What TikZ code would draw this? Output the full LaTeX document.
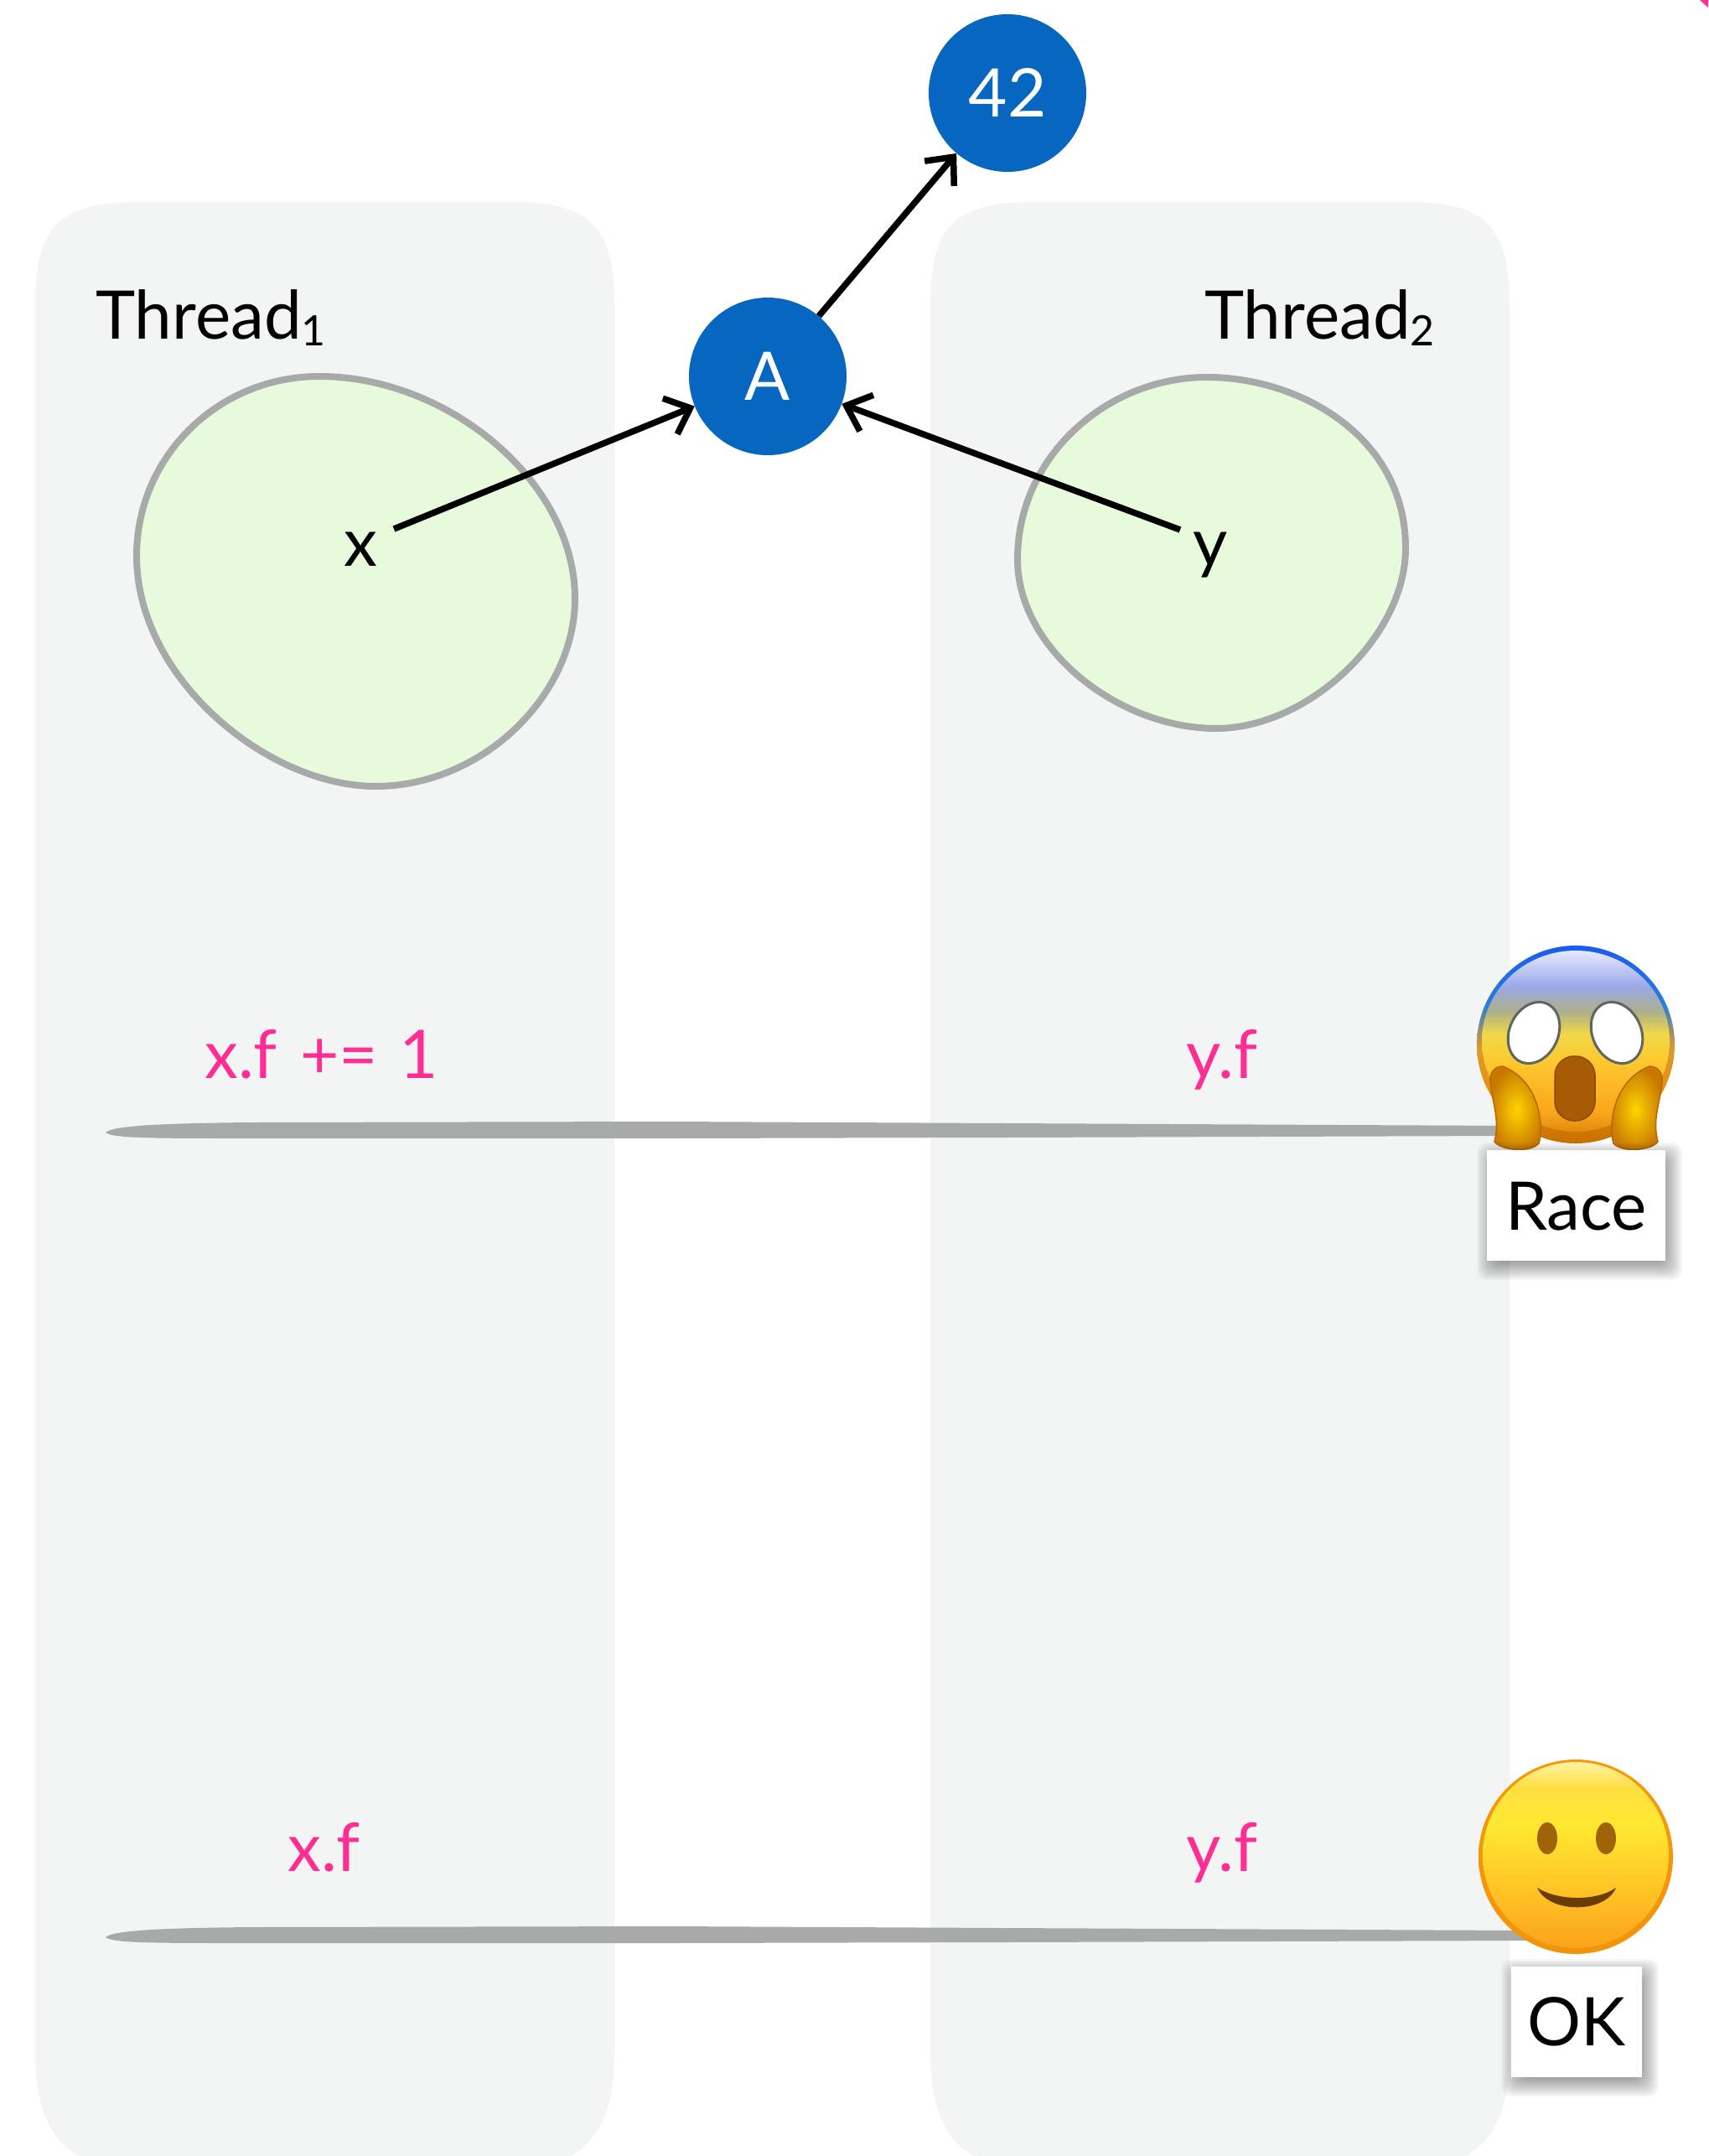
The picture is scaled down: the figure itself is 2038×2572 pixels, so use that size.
\documentclass[tikz,border=0pt]{standalone}
\usepackage{fontspec}
\setmainfont{Lato}
\usetikzlibrary{arrows.meta}
\definecolor{panelc}{HTML}{F3F5F4}
\definecolor{blobf}{HTML}{E7FBDC}
\definecolor{greyc}{HTML}{A7AAA9}
\definecolor{bluec}{HTML}{0666C0}
\definecolor{pinkc}{HTML}{FF2E93}
\definecolor{handin}{HTML}{FFD400}
\definecolor{handout}{HTML}{C87800}
\definecolor{handln}{HTML}{B86A00}
\definecolor{mouthc}{HTML}{A85A05}
\definecolor{mouthln}{HTML}{8E4A00}
\definecolor{eyeln}{HTML}{5F6660}
\definecolor{smeye}{HTML}{A06408}
\definecolor{smmouth}{HTML}{6B3C00}
\definecolor{so1}{HTML}{1A5CF0}\definecolor{so2}{HTML}{2B80D8}\definecolor{so3}{HTML}{D89A30}\definecolor{so4}{HTML}{E88F10}\definecolor{so5}{HTML}{C87000}
\definecolor{si1}{HTML}{E6EAFF}\definecolor{si2}{HTML}{9AA8E6}\definecolor{si3}{HTML}{AEB088}\definecolor{si4}{HTML}{F0D848}\definecolor{si5}{HTML}{FFC62E}\definecolor{si6}{HTML}{F9A51A}\definecolor{si7}{HTML}{E08A10}
\definecolor{ho1}{HTML}{F59A0C}\definecolor{ho2}{HTML}{F29408}
\definecolor{hi1}{HTML}{FFF2A0}\definecolor{hi2}{HTML}{FFDF40}\definecolor{hi3}{HTML}{FFE830}\definecolor{hi4}{HTML}{FFBC22}\definecolor{hi5}{HTML}{FAA31A}
\pgfdeclareverticalshading{scareouter}{100bp}{color(0bp)=(so5);color(25bp)=(so5);color(38.7bp)=(so4);color(49.3bp)=(so3);color(59.8bp)=(so2);color(75bp)=(so1);color(100bp)=(so1)}
\pgfdeclareverticalshading{scareinner}{100bp}{color(0bp)=(si7);color(25bp)=(si7);color(30bp)=(si6);color(43.7bp)=(si5);color(52bp)=(si4);color(58bp)=(si3);color(65bp)=(si2);color(75bp)=(si1);color(100bp)=(si1)}
\pgfdeclareverticalshading{smileouter}{100bp}{color(0bp)=(ho2);color(25bp)=(ho2);color(75bp)=(ho1);color(100bp)=(ho1)}
\pgfdeclareverticalshading{smileinner}{100bp}{color(0bp)=(hi5);color(25bp)=(hi5);color(37bp)=(hi4);color(58bp)=(hi3);color(68bp)=(hi2);color(75bp)=(hi1);color(100bp)=(hi1)}
\newcommand{\softshadow}[4]{%
  \foreach \d in {16,14,...,-8}{%
    \fill[black,opacity=.035,rounded corners=12pt] (#1-\d+4,#2-\d+7) rectangle (#3+\d+4,#4+\d+7);}}
\tikzset{
  big/.style={font=\fontsize{80}{96}\selectfont},
  lab/.style={big,inner sep=0pt,anchor=base west},
  pinklab/.style={lab,text=pinkc},
  obj/.style={circle,fill=bluec,text=white,minimum size=188pt,inner sep=0pt,big},
  blob/.style={fill=blobf,draw=greyc,line width=8pt},
  conn/.style={line width=7.5pt,draw=black,-{Straight Barb[length=26pt,width=46pt,line width=7.5pt]}},
  panel/.style={fill=panelc},
  bar/.style={fill=greyc},
  tag/.style={fill=white,inner sep=0pt,big},
  hand/.style={inner color=handin,outer color=handout,draw=handln,line width=1.5pt}
}
\begin{document}
\begin{tikzpicture}[x=1pt,y=-1pt]
\useasboundingbox (0,0) rectangle (2038,2572);
\fill[white] (0,0) rectangle (2038,2572);
\begin{scope}
\clip (0,0) rectangle (2038,2572);
\path[panel] (42,365) .. controls (42,270) and (70,241) .. (165,241) -- (610,241) .. controls (705,241) and (733,270) .. (733,365) -- (733,2447) .. controls (733,2530) and (707,2585) .. (620,2585) -- (155,2585) .. controls (68,2585) and (42,2530) .. (42,2447) -- cycle;
\path[panel] (1110,365) .. controls (1110,270) and (1138,241) .. (1233,241) -- (1678,241) .. controls (1773,241) and (1801,270) .. (1801,365) -- (1801,2447) .. controls (1801,2530) and (1775,2585) .. (1688,2585) -- (1223,2585) .. controls (1136,2585) and (1110,2530) .. (1110,2447) -- cycle;
\end{scope}
% corner mark
\fill[pinkc] (2028,0) -- (2038,0) -- (2038,9) -- cycle;
% memory blobs
\path[blob] (381,449) .. controls (535,449) and (686,575) .. (686,714) .. controls (686,830) and (575,938) .. (448,938) .. controls (320,938) and (163,810) .. (163,663) .. controls (163,545) and (260,449) .. (381,449) -- cycle;
\path[blob] (1440,450) .. controls (1550,450) and (1677,520) .. (1677,654) .. controls (1677,760) and (1560,869) .. (1451,869) .. controls (1335,869) and (1214,775) .. (1214,667) .. controls (1214,545) and (1320,450) .. (1440,450) -- cycle;
% timeline bars
\path[bar] (126,1351) .. controls (135,1343) and (190,1340) .. (300,1339) -- (800,1338) -- (1200,1340) -- (1800,1343) -- (1800,1355) -- (1200,1357) -- (800,1358) -- (300,1358) .. controls (180,1358) and (135,1358) .. (126,1351) -- cycle;
\path[bar] (126,2311) .. controls (135,2303) and (190,2300) .. (300,2299) -- (800,2298) -- (1200,2300) -- (1820,2303) -- (1820,2315) -- (1200,2317) -- (800,2318) -- (300,2318) .. controls (180,2318) and (135,2318) .. (126,2311) -- cycle;
% objects
\node[obj] (A) at (916,449) {A};
\node[obj] (N42) at (1202,111) {42};
\coordinate (xs) at (470,631);
\coordinate (ys) at (1408,632);
\draw[conn] (xs) -- (A);
\draw[conn] (ys) -- (A);
\draw[conn] (A) -- (N42);
% labels
\node[lab] (t1) at (114,404) {Thread\raisebox{-8pt}{\fontsize{50}{50}\selectfont 1}};
\node[lab] (t2) at (1437,404) {Thread\raisebox{-8pt}{\fontsize{50}{50}\selectfont 2}};
\node[big,inner sep=0pt,anchor=base] (x) at (430,675) {x};
\node[big,inner sep=0pt,anchor=base] (y) at (1444,675) {y};
\node[pinklab] (p1) at (244,1286) {x.f \hspace{7pt}+= \hspace{5pt}1};
\node[pinklab] (p2) at (1415,1286) {y.f};
\node[pinklab] (p3) at (343,2232) {x.f};
\node[pinklab] (p4) at (1415,2232) {y.f};
% scared emoji
\shade[shading=scareouter] (1880,1246) circle [radius=118pt];
\shade[shading=scareinner] (1880,1242) ellipse [x radius=112pt,y radius=108pt];
\draw[fill=white,draw=eyeln,line width=3pt] (1830,1232) ellipse [x radius=29pt,y radius=38pt,rotate=-25];
\draw[fill=white,draw=eyeln,line width=3pt] (1929,1232) ellipse [x radius=29pt,y radius=38pt,rotate=25];
\fill[mouthc,draw=mouthln,line width=1.5pt,rounded corners=23pt] (1855,1260) rectangle (1903,1337);
\shade[hand] (1793,1272) .. controls (1783,1272) and (1777,1280) .. (1778,1290) .. controls (1780,1315) and (1790,1335) .. (1783,1362) .. controls (1790,1372) and (1825,1376) .. (1836,1364) .. controls (1842,1345) and (1838,1290) .. (1793,1272) -- cycle;
\shade[hand] (1968,1272) .. controls (1978,1272) and (1984,1280) .. (1983,1290) .. controls (1981,1315) and (1971,1335) .. (1978,1362) .. controls (1971,1372) and (1936,1376) .. (1925,1364) .. controls (1919,1345) and (1923,1290) .. (1968,1272) -- cycle;
% smile emoji
\shade[shading=smileouter] (1880,2215) circle [radius=116pt];
\shade[shading=smileinner] (1880,2213) circle [radius=111pt];
\fill[smeye] (1846,2193) ellipse [x radius=12pt,y radius=19pt];
\fill[smeye] (1916,2193) ellipse [x radius=12pt,y radius=19pt];
\fill[smmouth] (1834,2252) .. controls (1860,2268) and (1905,2268) .. (1928,2252) .. controls (1915,2283) and (1848,2283) .. (1834,2252) -- cycle;
% verdict tags
\softshadow{1774}{1372}{1987}{1504}
\softshadow{1803}{2346}{1959}{2478}
\fill[white] (1774,1372) rectangle (1987,1504);
\fill[white] (1803,2346) rectangle (1959,2478);
\node[tag,anchor=base] (race) at (1880.5,1467) {Race};
\node[tag,anchor=base] (ok) at (1881,2440) {OK};
\end{tikzpicture}
\end{document}
